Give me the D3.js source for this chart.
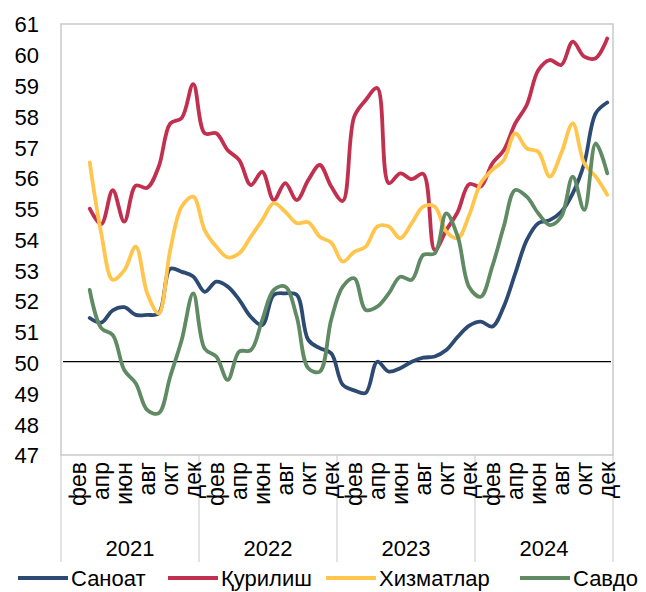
<!DOCTYPE html>
<html>
<head>
<meta charset="utf-8">
<script src="https://cdn.jsdelivr.net/npm/d3@7"></script>
<style>
  body { margin: 0; background: #fff; }
  text { font-family: "Liberation Sans", Arial, sans-serif; fill: #000; }
</style>
</head>
<body>
<div id="chart"></div>
<script>
// data
var years = ["2021", "2022", "2023", "2024"];
var monthNames = ["янв", "фев", "мар", "апр", "май", "июн", "июл", "авг", "сен", "окт", "ноя", "дек"];

// values from март 2021 to дек 2024 (first two months are empty)
var sanoat = [null, null,
  51.45, 51.3, 51.7, 51.8, 51.55, 51.55, 51.6, 53.05, 52.95, 52.8,
  52.3, 52.63, 52.47, 52.04, 51.49, 51.22, 52.2, 52.25, 52.2, 50.74, 50.47, 50.3,
  49.28, 49.1, 49.02, 50.03, 49.71, 49.82, 50.03, 50.16, 50.2, 50.41, 50.84, 51.2,
  51.33, 51.17, 51.82, 52.9, 53.98, 54.53, 54.63, 54.9, 55.5, 56.47, 58.1, 58.45];
var qurilish = [null, null,
  55.0, 54.5, 55.6, 54.58, 55.75, 55.68, 56.37, 57.77, 57.95, 59.05,
  57.45, 57.45, 56.9, 56.58, 55.77, 56.2, 55.28, 55.83, 55.28, 55.93, 56.42, 55.72,
  55.25, 57.99, 58.53, 58.92, 55.83, 56.15, 55.96, 56.13, 53.66, 54.3, 54.9, 55.8,
  55.72, 56.47, 56.9, 57.77, 58.37, 59.5, 59.83, 59.67, 60.43, 59.94, 59.89, 60.53];
var xizmatlar = [null, null,
  56.5, 54.2, 52.69, 53.0, 53.77, 52.25, 51.6, 53.66, 55.07, 55.39,
  54.3, 53.77, 53.42, 53.55, 54.09, 54.63, 55.18, 54.9, 54.53, 54.56, 54.09, 53.9,
  53.28, 53.6, 53.77, 54.42, 54.42, 54.04, 54.53, 55.07, 55.07, 54.26, 54.04, 54.8,
  55.83, 56.26, 56.58, 57.45, 56.96, 56.85, 56.04, 56.8, 57.77, 56.47, 56.04, 55.45];
var savdo = [null, null,
  52.36, 51.12, 50.9, 49.76, 49.33, 48.46, 48.36, 49.55, 50.74, 52.25,
  50.45, 50.2, 49.44, 50.36, 50.4, 51.39, 52.36, 52.47, 51.49, 49.82, 49.71, 51.4,
  52.47, 52.74, 51.71, 51.82, 52.25, 52.79, 52.69, 53.5, 53.55, 54.85, 54.09, 52.45,
  52.14, 53.12, 54.42, 55.61, 55.39, 54.85, 54.47, 54.74, 56.04, 54.96, 57.12, 56.15];

var seriesNames = ["Саноат", "Қурилиш", "Хизматлар", "Савдо"];
var seriesValues = [sanoat, qurilish, xizmatlar, savdo];
var colors = ["#2d4a73", "#c1304f", "#ffc54c", "#5f8a63"];
var yTicks = d3.range(47, 62);
var threshold = 50;

function drawChart(){
var W = 646, H = 592;
var mLeft = 61, mRight = 613, mTop = 24, mBottom = 455;

var svg = d3.select("#chart").append("svg")
  .attr("width", W).attr("height", H);

// category = every month of every year
var cats = [];
years.forEach(function(y){ monthNames.forEach(function(m){ cats.push(y + "-" + m); }); });

var x = d3.scaleBand().domain(cats).range([mLeft, mRight]);
var y = d3.scaleLinear().domain([47, 61]).range([mBottom, mTop]);

// frame
svg.append("rect")
  .attr("x", mLeft).attr("y", mTop)
  .attr("width", mRight - mLeft).attr("height", mBottom - mTop)
  .attr("fill", "none").attr("stroke", "#c9c9c9").attr("stroke-width", 1.5);

// y axis labels
var yAxis = d3.axisLeft(y).tickValues(yTicks).tickSize(0).tickPadding(0).tickFormat(d3.format("d"));
var gy = svg.append("g").attr("transform", "translate(" + (mLeft - 22) + ",0)").call(yAxis);
gy.select(".domain").remove();
gy.selectAll("text").style("font-size", "22px").attr("text-anchor", "end").attr("dy", "0.36em");

// year separators
var yearW = (mRight - mLeft) / years.length;
years.forEach(function(yr, i){
  svg.append("line")
    .attr("x1", mLeft + i * yearW).attr("x2", mLeft + i * yearW)
    .attr("y1", mBottom).attr("y2", 562)
    .attr("stroke", "#d0d0d0").attr("stroke-width", 1.2);
  svg.append("text")
    .attr("x", mLeft + (i + 0.5) * yearW).attr("y", 556)
    .attr("text-anchor", "middle").style("font-size", "22px")
    .text(yr);
});
svg.append("line")
  .attr("x1", mRight).attr("x2", mRight).attr("y1", mBottom).attr("y2", 562)
  .attr("stroke", "#d0d0d0").attr("stroke-width", 1.2);

// month labels (every second)
cats.forEach(function(c, i){
  if (i % 2 === 0) return;
  var cx = x(c) + x.bandwidth() / 2;
  svg.append("text")
    .attr("transform", "translate(" + (cx + 8) + "," + (mBottom + 7) + ") rotate(-90)")
    .attr("text-anchor", "end")
    .style("font-size", "23px")
    .text(c.split("-")[1]);
});

// threshold line
svg.append("line")
  .attr("x1", mLeft + 2).attr("x2", mRight - 2)
  .attr("y1", y(threshold) - 1).attr("y2", y(threshold) - 1)
  .attr("stroke", "#000").attr("stroke-width", 1.2);

// lines
var line = d3.line()
  .defined(function(d){ return d != null; })
  .x(function(d, i){ return x(cats[i]) + x.bandwidth() / 2; })
  .y(function(d){ return y(d); })
  .curve(d3.curveCatmullRom.alpha(0.5));

seriesValues.forEach(function(vals, k){
  svg.append("path")
    .datum(vals)
    .attr("d", line)
    .attr("fill", "none")
    .attr("stroke", colors[k])
    .attr("stroke-width", 3.8)
    .attr("stroke-linejoin", "round")
    .attr("stroke-linecap", "round");
});

// legend
var legendX = [18, 168, 326, 520];
seriesNames.forEach(function(n, k){
  svg.append("line")
    .attr("x1", legendX[k]).attr("x2", legendX[k] + 50)
    .attr("y1", 578).attr("y2", 578)
    .attr("stroke", colors[k]).attr("stroke-width", 3.8);
  svg.append("text")
    .attr("x", legendX[k] + 53).attr("y", 586)
    .style("font-size", "22px")
    .text(n);
});
}

drawChart();
</script>
</body>
</html>
